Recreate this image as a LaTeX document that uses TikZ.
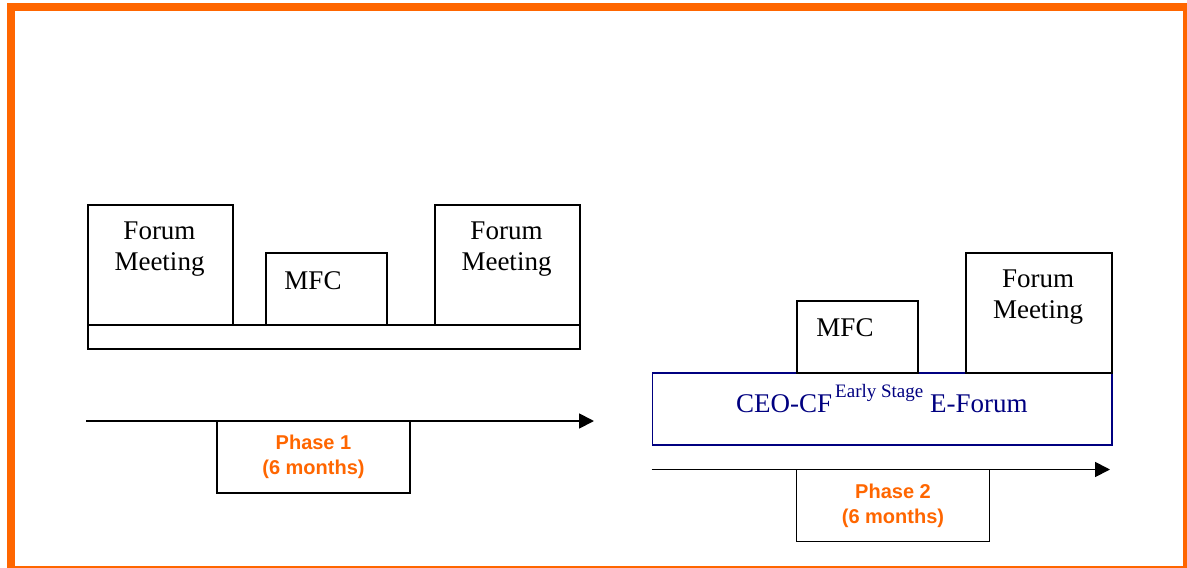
\documentclass[tikz,border=0pt]{standalone}
\usepackage{fontspec}
\setmainfont{Liberation Serif}
\newfontfamily\phasefont{Liberation Sans}
\usetikzlibrary{arrows.meta}
\definecolor{frameorange}{RGB}{255,102,0}
\definecolor{navyblue}{RGB}{0,0,128}
\begin{document}
\begin{tikzpicture}[x=1pt,y=-1pt,
  box/.style={draw=black,line width=1.8pt,inner sep=0pt,anchor=north west},
  lbl/.style={font=\fontsize{27}{31}\selectfont,align=center,inner sep=0pt},
  phasebox/.style={draw=black,line width=1.8pt,fill=white,minimum width=193pt,
    minimum height=72pt,inner sep=0pt,align=center,text=frameorange,
    font=\phasefont\bfseries\fontsize{20}{25}\selectfont},
  timeline/.style={line width=1.8pt,-{Triangle[length=15pt,width=15pt]}}]
\useasboundingbox (0,0) rectangle (1187,568);
\clip (0,0) rectangle (1187,568);
\draw[frameorange,line width=8pt] (11,7) rectangle (1187,570);

% left group
\node[box,minimum width=492pt,minimum height=24pt] (bar1) at (87,324) {};
\node[box,minimum width=145pt,minimum height=120pt] (fm1) at (87,204) {};
\node[box,minimum width=121pt,minimum height=72pt] (mfc1) at (265,252) {};
\node[box,minimum width=145pt,minimum height=120pt] (fm2) at (434,204) {};
\node[lbl] (fm1t) at (159.5,249.5) {Forum\\Meeting};
\node[lbl,anchor=base] (mfc1t) at (313,289) {MFC};
\node[lbl] (fm2t) at (506.5,249.5) {Forum\\Meeting};

% right group
\node[box,draw=navyblue,minimum width=459.5pt,minimum height=72pt] (bar2) at (651.5,372) {};
\node[box,minimum width=121pt,minimum height=72pt] (mfc2) at (796,300) {};
\node[box,minimum width=146pt,minimum height=120pt] (fm3) at (965,252) {};
\node[lbl,anchor=base] (mfc2t) at (845,336) {MFC};
\node[lbl] (fm3t) at (1038,297.5) {Forum\\Meeting};
\node[lbl,anchor=base west,text=navyblue] (ceot) at (736,412)
  {CEO-CF\kern3pt\raisebox{15pt}{\fontsize{19}{21}\selectfont Early Stage} E-Forum};

% timelines
\coordinate (a1s) at (86,421);
\coordinate (a1e) at (594,421);
\draw[timeline] (a1s) -- (a1e);
\node[phasebox] (ph1) at (313.5,457) {Phase 1\\(6 months)};

\coordinate (a2s) at (651.5,469.5);
\coordinate (a2e) at (1110,469.5);
\draw[timeline] (a2s) -- (a2e);
\node[phasebox] (ph2) at (893,505.5) {Phase 2\\(6 months)};
\end{tikzpicture}
\end{document}
